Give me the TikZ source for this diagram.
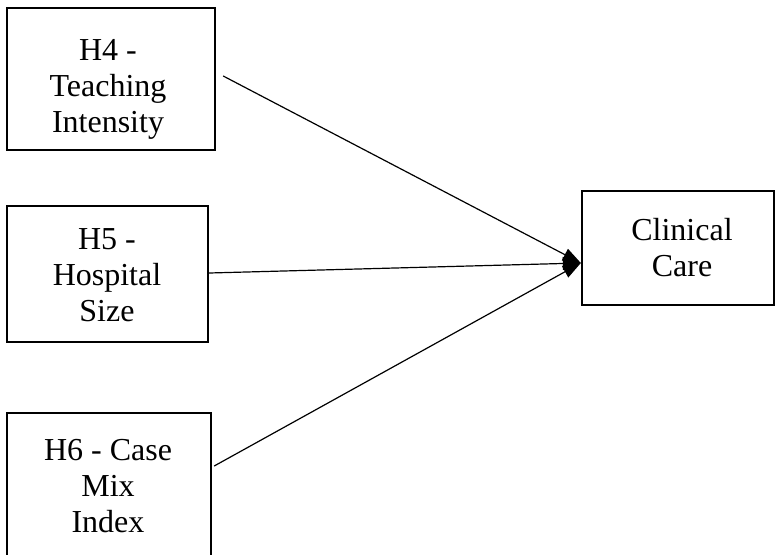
\documentclass[tikz,border=0pt]{standalone}
\usepackage{fontspec}
\setmainfont{Liberation Serif}
\usetikzlibrary{arrows.meta}
\begin{document}
\begin{tikzpicture}[x=1pt,y=-1pt,
  box/.style={draw,line width=2.4pt,inner sep=0pt},
  lbl/.style={anchor=base,inner sep=0pt,font=\fontsize{32}{36}\selectfont},
  link/.style={line width=1.2pt,-{Triangle[length=18pt,width=13pt]}}]
\useasboundingbox (0,0) rectangle (775,554);
\clip (0,0) rectangle (775,554);

% boxes
\node[box,minimum width=208pt,minimum height=142pt] (h4) at (111,79) {};
\node[box,minimum width=201pt,minimum height=136pt] (h5) at (107.5,274) {};
\node[box,minimum width=204pt,minimum height=146pt] (h6) at (109,486) {};
\node[box,minimum width=192pt,minimum height=114pt] (cc) at (678,248) {};

% box texts (first baseline at the given point)
\node[lbl] (h4t) at (108,60) {\begin{tabular}[t]{@{}c@{}}H4 -\\Teaching\\Intensity\end{tabular}};
\node[lbl] (h5t) at (107,249) {\begin{tabular}[t]{@{}c@{}}H5 -\\Hospital\\Size\end{tabular}};
\node[lbl] (h6t) at (108,460) {\begin{tabular}[t]{@{}c@{}}H6 - Case\\Mix\\Index\end{tabular}};
\node[lbl] (cct) at (682,240) {\begin{tabular}[t]{@{}c@{}}Clinical\\Care\end{tabular}};

% connectors
\coordinate (tip) at ([yshift=-15pt]cc.west);
\draw[link] ([xshift=7pt,yshift=3pt]h4.east) -- (tip);
\draw[link] ([yshift=1pt]h5.east) -- (tip);
\draw[link] ([xshift=2pt,yshift=20pt]h6.east) -- (tip);
\end{tikzpicture}
\end{document}
